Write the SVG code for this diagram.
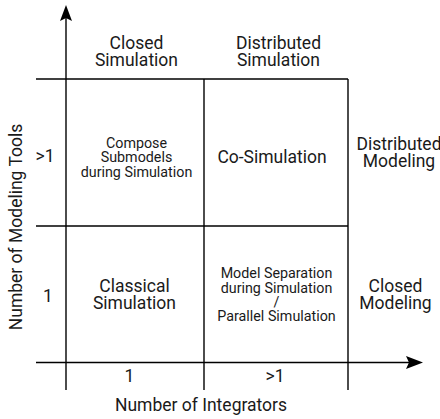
<svg xmlns="http://www.w3.org/2000/svg" width="440" height="419" viewBox="0 0 440 419">
  <style>
    .ln { stroke: #000; stroke-width: 1.4; fill: none; }
    .ah { fill: #000; stroke: none; }
    text { font-family: Roboto, "Liberation Sans", sans-serif; fill: #1a1a1a; text-anchor: middle; }
    .lg { font-size: 17.5px; }
    .sm { font-size: 14.3px; }
  </style>
  <rect width="440" height="419" fill="#fff"/>

  <g id="connectors">
    <!-- grid -->
    <line class="ln" x1="36" y1="79" x2="348" y2="79"/>
    <line class="ln" x1="36" y1="226" x2="348" y2="226"/>
    <line class="ln" x1="204" y1="79" x2="204" y2="390"/>
    <line class="ln" x1="348" y1="79" x2="348" y2="390"/>
    <!-- axes -->
    <line class="ln" x1="66" y1="390" x2="66" y2="18"/>
    <path class="ah" d="M66,5 L72,21 L66,18 L60,21 Z"/>
    <line class="ln" x1="36" y1="362.5" x2="410" y2="362.5"/>
    <path class="ah" d="M423,362.5 L406,356 L409,362.5 L406,369 Z"/>
  </g>

  <g id="col-closed-sim">
    <text class="lg" x="136.5" y="49.3">Closed</text>
    <text class="lg" x="136.5" y="66">Simulation</text>
  </g>
  <g id="col-distributed-sim">
    <text class="lg" x="278.5" y="49.3">Distributed</text>
    <text class="lg" x="278.5" y="66">Simulation</text>
  </g>

  <g id="row-gt1"><text class="lg" x="45" y="161.7">&gt;1</text></g>
  <g id="row-1"><text class="lg" x="48" y="301.7">1</text></g>

  <g id="cell-compose">
    <text class="sm" x="136.5" y="148">Compose</text>
    <text class="sm" x="136.5" y="162.3">Submodels</text>
    <text class="sm" x="136.5" y="176.5">during Simulation</text>
  </g>
  <g id="cell-cosim">
    <text class="lg" x="272" y="163.3">Co-Simulation</text>
  </g>
  <g id="cell-classical">
    <text class="lg" x="134.5" y="291.7">Classical</text>
    <text class="lg" x="134.5" y="309.3">Simulation</text>
  </g>
  <g id="cell-separation">
    <text class="sm" x="276.5" y="278.3">Model Separation</text>
    <text class="sm" x="276.5" y="292.5">during Simulation</text>
    <text class="sm" x="276.5" y="306.7">/</text>
    <text class="sm" x="276.5" y="321">Parallel Simulation</text>
  </g>

  <g id="distributed-modeling">
    <text class="lg" x="399" y="150">Distributed</text>
    <text class="lg" x="399" y="166.5">Modeling</text>
  </g>
  <g id="closed-modeling">
    <text class="lg" x="395.5" y="292.3">Closed</text>
    <text class="lg" x="395.5" y="309.3">Modeling</text>
  </g>

  <g id="col-1"><text class="lg" x="129.5" y="381.7">1</text></g>
  <g id="col-gt1"><text class="lg" x="275" y="381.7">&gt;1</text></g>

  <g id="x-axis-label"><text class="lg" x="201" y="411">Number of Integrators</text></g>
  <g id="y-axis-label"><text class="lg" transform="translate(22,227) rotate(-90)">Number of Modeling Tools</text></g>
</svg>
